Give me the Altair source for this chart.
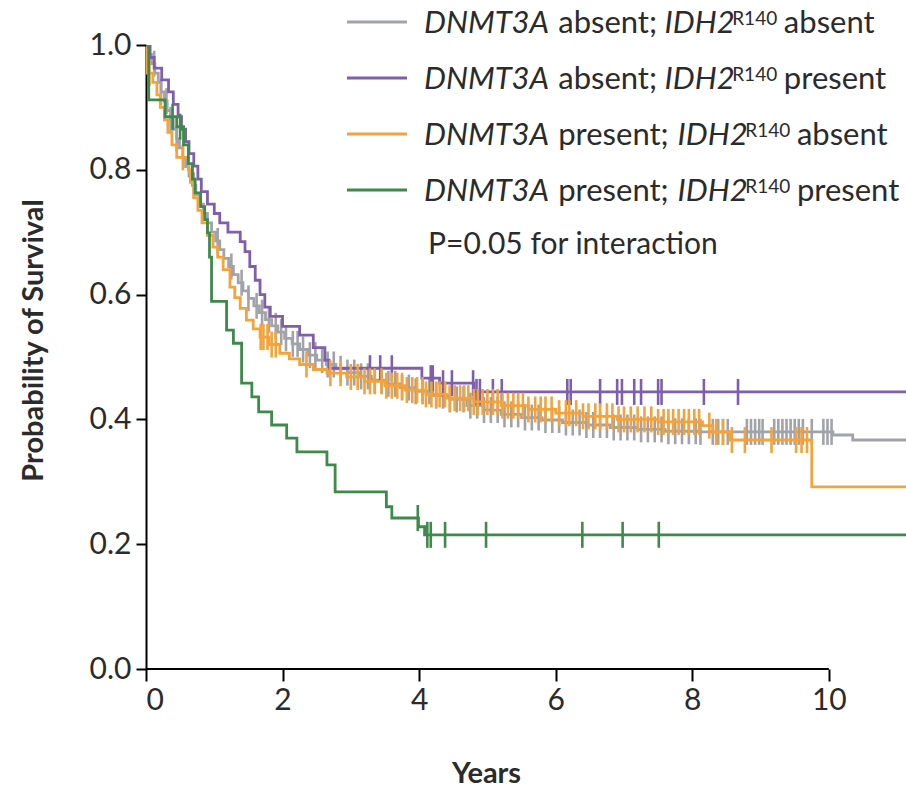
import altair as alt
import pandas as pd
import numpy as np

T_END = 11.13  # last follow-up shown at the right edge

# ---- Kaplan-Meier step curves (time in years, survival probability) ----
gray_t = [0, 0.03, 0.08, 0.13, 0.18, 0.22, 0.27, 0.31, 0.36, 0.40, 0.45, 0.49, 0.54, 0.58,
          0.63, 0.68, 0.73, 0.78, 0.84, 0.90, 0.96, 1.02, 1.08, 1.14, 1.21, 1.28, 1.35, 1.42,
          1.50, 1.58, 1.66, 1.75, 1.84, 1.93, 2.03, 2.14, 2.25, 2.37, 2.50, 2.64, 2.78, 2.95,
          3.12, 3.30, 3.50, 3.72, 3.95, 4.20, 4.45, 4.70, 4.95, 5.20, 5.50, 5.80, 6.10, 6.45,
          6.80, 7.20, 7.60, 8.10, 10.06, 10.35]
gray_s = [1.0, 0.985, 0.97, 0.955, 0.94, 0.925, 0.91, 0.895, 0.88, 0.865, 0.85, 0.835, 0.82,
          0.805, 0.79, 0.775, 0.76, 0.745, 0.73, 0.715, 0.70, 0.686, 0.672, 0.658, 0.645, 0.632,
          0.619, 0.606, 0.594, 0.582, 0.571, 0.56, 0.55, 0.54, 0.53, 0.521, 0.512, 0.503, 0.495,
          0.488, 0.481, 0.475, 0.469, 0.463, 0.457, 0.451, 0.445, 0.438, 0.432, 0.422, 0.415,
          0.408, 0.403, 0.399, 0.395, 0.391, 0.387, 0.384, 0.381, 0.380, 0.375, 0.367]
gray_c = [0.12, 0.22, 0.30, 0.36, 0.45, 0.70, 1.05, 1.25, 1.40, 1.50, 1.62, 1.70, 1.80, 1.90,
          1.98, 2.05, 2.15, 2.22, 2.30, 2.40, 2.48, 2.58, 2.66, 2.75, 2.85, 2.95, 3.05, 3.15,
          3.25, 3.35, 3.45, 3.55, 3.65, 3.75, 3.85, 3.95, 4.05, 4.15, 4.25, 4.35, 4.45, 4.55,
          4.65, 4.75, 4.85, 4.95, 5.05, 5.15, 5.25, 5.35, 5.45, 5.55, 5.65, 5.75, 5.85, 5.95,
          6.05, 6.15, 6.25, 6.35, 6.45, 6.55, 6.65, 6.75, 6.85, 6.95, 7.05, 7.15, 7.25, 7.35,
          7.45, 7.55, 7.65, 7.75, 7.85, 7.95, 8.05, 8.12, 8.30, 8.38, 8.45, 8.52, 8.80, 8.86,
          8.92, 8.98, 9.03, 9.20, 9.26, 9.32, 9.38, 9.44, 9.50, 9.56, 9.62, 9.75, 9.92, 9.98,
          10.04]

purple_t = [0, 0.06, 0.12, 0.23, 0.33, 0.40, 0.47, 0.52, 0.58, 0.63, 0.70, 0.76, 0.81, 0.90,
            1.00, 1.08, 1.20, 1.38, 1.45, 1.52, 1.60, 1.67, 1.74, 1.82, 2.00, 2.25, 2.45, 2.62,
            2.68, 4.04, 4.30, 4.80]
purple_s = [1.0, 0.98, 0.963, 0.944, 0.925, 0.905, 0.885, 0.865, 0.845, 0.826, 0.806, 0.785,
            0.765, 0.745, 0.73, 0.715, 0.70, 0.685, 0.669, 0.645, 0.623, 0.60, 0.58, 0.565,
            0.549, 0.535, 0.515, 0.495, 0.482, 0.466, 0.458, 0.444]
purple_c = [3.28, 3.43, 3.60, 4.17, 4.20, 4.35, 4.48, 4.79, 4.84, 4.89, 5.08, 5.21, 6.17, 6.22,
            6.65, 6.90, 6.97, 7.15, 7.25, 7.50, 7.55, 8.17, 8.67]

orange_t = [0, 0.02, 0.10, 0.16, 0.21, 0.27, 0.32, 0.38, 0.45, 0.62, 0.65, 0.70, 0.76, 0.82,
            0.90, 0.98, 1.05, 1.13, 1.23, 1.30, 1.38, 1.47, 1.57, 1.67, 1.80, 1.96, 2.10, 2.25,
            2.45, 2.65, 2.94, 3.20, 3.50, 3.80, 4.10, 4.40, 4.80, 5.20, 5.60, 6.00, 6.40, 6.90,
            7.50, 8.15, 8.30, 8.55, 9.75]
orange_s = [1.0, 0.955, 0.94, 0.92, 0.90, 0.88, 0.86, 0.84, 0.82, 0.80, 0.78, 0.755, 0.735,
            0.715, 0.695, 0.676, 0.66, 0.64, 0.612, 0.595, 0.578, 0.559, 0.545, 0.532, 0.52,
            0.506, 0.497, 0.488, 0.48, 0.474, 0.468, 0.461, 0.454, 0.447, 0.44, 0.434, 0.428,
            0.422, 0.416, 0.41, 0.405, 0.40, 0.396, 0.39, 0.38, 0.367, 0.292]
orange_c = [0.05, 0.54, 1.68, 1.72, 1.78, 1.84, 1.90, 2.35, 2.70, 2.85, 3.00, 3.10, 3.20, 3.28,
            3.35, 3.45, 3.52, 3.60, 3.68, 3.75, 3.82, 3.90, 3.97, 4.05, 4.10, 4.18, 4.25, 4.30,
            4.38, 4.45, 4.52, 4.60, 4.66, 4.72, 4.80, 4.86, 4.93, 5.00, 5.08, 5.15, 5.22, 5.30,
            5.38, 5.45, 5.52, 5.60, 5.70, 5.78, 5.85, 5.94, 6.05, 6.15, 6.20, 6.30, 6.40, 6.48,
            6.58, 6.65, 6.75, 6.83, 6.92, 7.00, 7.10, 7.20, 7.30, 7.40, 7.50, 7.58, 7.65, 7.72,
            7.80, 7.88, 7.95, 8.03, 8.10, 8.25, 8.35, 8.45, 8.58, 8.77, 9.16, 9.52, 9.60, 9.68]

green_t = [0, 0.04, 0.28, 0.45, 0.55, 0.62, 0.68, 0.72, 0.80, 0.86, 0.90, 0.93, 0.96, 1.18,
           1.28, 1.40, 1.55, 1.65, 1.84, 2.06, 2.21, 2.65, 2.77, 3.52, 3.60, 3.99, 4.08]
green_s = [1.0, 0.912, 0.885, 0.869, 0.84, 0.81, 0.785, 0.763, 0.741, 0.72, 0.699, 0.66, 0.589,
           0.543, 0.522, 0.458, 0.436, 0.412, 0.391, 0.37, 0.348, 0.327, 0.284, 0.26, 0.242,
           0.228, 0.215]
green_c = [0.39, 0.50, 3.98, 4.12, 4.17, 4.38, 4.98, 6.39, 6.98, 7.51]

colors = ["#a2a3a9", "#7f5fab", "#f4a23a", "#3e8a4b"]
curves = [(gray_t, gray_s, gray_c), (purple_t, purple_s, purple_c),
          (orange_t, orange_s, orange_c), (green_t, green_s, green_c)]

# legend content
leg_gene1 = ["DNMT3A", "DNMT3A", "DNMT3A", "DNMT3A"]
leg_state1 = ["absent;", "absent;", "present;", "present;"]
leg_gene2 = ["IDH2", "IDH2", "IDH2", "IDH2"]
leg_sup = ["R140", "R140", "R140", "R140"]
leg_state2 = ["absent", "present", "absent", "present"]
p_text = "P=0.05 for interaction"

FONT = "Lato"
TXT = "#2b2b2b"
W, H = 760, 624

xscale = alt.Scale(domain=[0, T_END], nice=False, zero=False)
yscale = alt.Scale(domain=[0, 1], nice=False)

x_enc = alt.X("t:Q", scale=xscale,
              axis=alt.Axis(values=[0, 2, 4, 6, 8, 10], format="d", domain=False, grid=False,
                            tickSize=12, tickWidth=2, tickColor="black",
                            labelFont=FONT, labelFontSize=30, labelColor=TXT, labelPadding=4,
                            title="Years", titleFont=FONT, titleFontSize=29,
                            titleFontWeight="bold", titleColor=TXT,
                            titleX=340, titleY=104, titleAlign="center",
                            titleBaseline="middle"))
y_enc = alt.Y("s:Q", scale=yscale,
              axis=alt.Axis(values=[0, 0.2, 0.4, 0.6, 0.8, 1.0], format=".1f", grid=False,
                            domainColor="black", domainWidth=2,
                            tickSize=10, tickWidth=2, tickColor="black",
                            labelFont=FONT, labelFontSize=30, labelColor=TXT, labelPadding=5,
                            title="Probability of Survival", titleFont=FONT, titleFontSize=29,
                            titleFontWeight="bold", titleColor=TXT,
                            titleX=-113, titleY=295, titleAngle=270,
                            titleAlign="center", titleBaseline="middle"))

layers = []

# x axis baseline from 0 to 10 years only
axis_df = pd.DataFrame({"t": [0], "t2": [10], "s": [0]})
layers.append(alt.Chart(axis_df).mark_rule(color="black", strokeWidth=2)
              .encode(x=x_enc, x2="t2:Q", y=y_enc))

for col, (ts, ss, cs) in zip(colors, curves):
    line_df = pd.DataFrame({"t": list(ts) + [T_END], "s": list(ss) + [ss[-1]]})
    idx = np.searchsorted(np.array(ts), np.array(cs), side="right") - 1
    cens_df = pd.DataFrame({"t": cs, "s": np.array(ss)[idx]})
    layers.append(alt.Chart(line_df).mark_line(interpolate="step-after", color=col,
                                               strokeWidth=2.8, clip=True)
                  .encode(x=x_enc, y=y_enc))
    layers.append(alt.Chart(cens_df).mark_tick(orient="vertical", color=col, size=26,
                                               thickness=2.6, opacity=1)
                  .encode(x=x_enc, y=y_enc))

# ---- legend (manual, to allow italic gene names and superscript) ----
FS, FS_SUP = 31, 19
# approximate advance widths in em for layout
em_w = {"DNMT3A": 4.0, "absent;": 3.1, "present;": 3.52, "IDH2": 2.15, "R140": 2.35,
        "absent": 2.9, "present": 3.3}
SPACE = 0.33 * FS
row_y = [-23, 33, 89, 145]   # pixel rows relative to the plot's top edge
x0 = 424 - 146

for i in range(4):
    ry = row_y[i]
    one = pd.DataFrame({"k": [0]})
    layers.append(alt.Chart(one).mark_rule(color=colors[i], strokeWidth=2.8)
                  .encode(x=alt.value(201), x2=alt.value(261), y=alt.value(ry)))
    xa = x0
    xb = xa + em_w[leg_gene1[i]] * FS + SPACE
    xc = xb + em_w[leg_state1[i]] * FS + SPACE
    xd = xc + em_w[leg_gene2[i]] * FS + 1
    xe = xd + em_w[leg_sup[i]] * FS_SUP + 7
    parts = [
        (leg_gene1[i], xa, ry + 11, "italic", FS),
        (leg_state1[i], xb, ry + 11, "normal", FS),
        (leg_gene2[i], xc, ry + 11, "italic", FS),
        (leg_sup[i], xd, ry + 3, "normal", FS_SUP),
        (leg_state2[i], xe, ry + 11, "normal", FS),
    ]
    for txt, px, py, style, fs in parts:
        layers.append(alt.Chart(pd.DataFrame({"txt": [txt]}))
                      .mark_text(font=FONT, fontSize=fs, fontStyle=style, color=TXT,
                                 align="left", baseline="alphabetic")
                      .encode(x=alt.value(px), y=alt.value(py), text="txt:N"))

layers.append(alt.Chart(pd.DataFrame({"txt": [p_text]}))
              .mark_text(font=FONT, fontSize=30, color=TXT, align="left", baseline="alphabetic")
              .encode(x=alt.value(282), y=alt.value(209), text="txt:N"))

chart = (alt.layer(*layers)
         .properties(width=W, height=H,
                     autosize=alt.AutoSizeParams(type="none"),
                     padding={"left": 146, "top": 45, "right": 0, "bottom": 121},
                     background="white")
         .configure_view(stroke=None))

chart.save("out.html", embed_options={"renderer": "svg", "actions": False})
